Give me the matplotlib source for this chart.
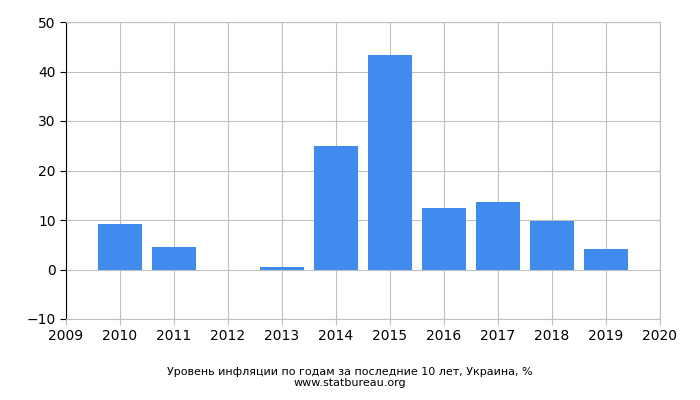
import matplotlib
matplotlib.use("Agg")
import matplotlib.pyplot as plt

years = [2010, 2011, 2012, 2013, 2014, 2015, 2016, 2017, 2018, 2019]
values = [9.1, 4.6, -0.2, 0.5, 24.9, 43.3, 12.4, 13.7, 9.8, 4.1]
xticks = list(range(2009, 2021))
yticks = [-10, 0, 10, 20, 30, 40, 50]

fig = plt.figure(figsize=(7, 4), dpi=100)
ax = fig.add_axes([66/700, 81/400, 594/700, 297/400])
ax.bar(years, values, width=0.8, color="#428bee", zorder=2)
ax.set_xlim(2009, 2020)
ax.set_ylim(-10, 50)
ax.set_xticks(xticks)
ax.set_yticks(yticks)
ax.grid(True, color="#c0c0c0", linewidth=0.8, zorder=0)
for s in ax.spines.values():
    s.set_color("#c0c0c0")
ax.spines["left"].set_color("black")
ax.tick_params(axis="both", labelsize=10, length=4, direction="out")
ax.tick_params(axis="x", colors="#c0c0c0", labelcolor="black")
fig.text(0.5, 0.063, "Уровень инфляции по годам за последние 10 лет, Украина, %", ha="center", fontsize=8)
fig.text(0.5, 0.035, "www.statbureau.org", ha="center", fontsize=8)
fig.savefig("out.png")
